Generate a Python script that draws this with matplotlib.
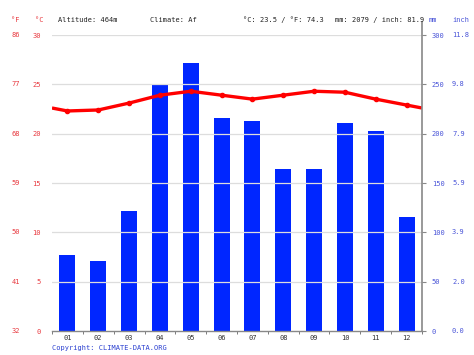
import numpy as np
import matplotlib
matplotlib.use('agg')
import matplotlib.pyplot as plt
from matplotlib.lines import Line2D

# climate data
months = ["01", "02", "03", "04", "05", "06", "07", "08", "09", "10", "11", "12"]
precip_mm = [77, 71, 122, 250, 272, 216, 213, 164, 164, 211, 203, 116]
temp_c = [22.3, 22.4, 23.1, 23.9, 24.3, 23.9, 23.5, 23.9, 24.3, 24.2, 23.5, 22.9]
header = ["Altitude: 464m", "Climate: Af", "°C: 23.5 / °F: 74.3", "mm: 2079 / inch: 81.9"]
header_x = [58, 150, 243, 335]

RED = "#ff0000"
BLUE = "#0026ff"
LBL_RED = "#e8393f"
LBL_BLUE = "#4a55d8"
FONT = "DejaVu Sans Mono"
FS = 5

W, H = 474, 355
fig = plt.figure(figsize=(W / 100, H / 100), dpi=100)
L, R, B, T = 52 / W, 422 / W, (H - 331) / H, (H - 35) / H
ax = fig.add_axes([L, B, R - L, T - B])
ax2 = ax.twinx()

x = np.arange(1, 13)

# precipitation bars on the mm axis
ax2.bar(x, precip_mm, width=0.52, color=BLUE, zorder=2)
ax2.set_ylim(0, 300)

# temperature line, wrapped to the edges with the Dec/Jan mean
edge = (temp_c[0] + temp_c[-1]) / 2
tx = np.concatenate([[0.5], x, [12.5]])
ty = np.concatenate([[edge], temp_c, [edge]])
ax.set_zorder(ax2.get_zorder() + 1)
ax.patch.set_visible(False)
ax.plot(tx, ty, color=RED, lw=2.4, solid_capstyle="butt", zorder=4)
ax.plot(x, temp_c, "o", color=RED, ms=3, zorder=5)
ax.set_ylim(0, 30)
ax.set_xlim(0.5, 12.5)
ax2.set_xlim(0.5, 12.5)

# grid
for v in range(5, 31, 5):
    ax.axhline(v, color="#dddddd", lw=0.9, zorder=0)
ax.set_axisbelow(True)

for a in (ax, ax2):
    for s in ("top", "left", "right", "bottom"):
        a.spines[s].set_visible(False)
ax.spines["bottom"].set_visible(True)
ax.spines["bottom"].set_color("#888888")
ax.spines["bottom"].set_linewidth(1.0)

# right axis line, running a little above the plot like the original
fig.add_artist(Line2D([R, R], [B, 1 - 22 / H], transform=fig.transFigure,
                      color="#888888", lw=1.2))

# x ticks
ax.set_xticks(x)
ax.set_xticklabels(months, fontsize=FS, family=FONT, color="#333333")
ax.tick_params(axis="x", length=0, pad=3)
ax.set_xticks(np.arange(0.5, 13, 1), minor=True)
ax.tick_params(axis="x", which="minor", length=2, color="#666666", direction="out")

# left temperature labels
c_ticks = list(range(0, 31, 5))
ax.set_yticks(c_ticks)
ax.set_yticklabels([str(c) for c in c_ticks], fontsize=FS, family=FONT, color=LBL_RED)
ax.tick_params(axis="y", length=0, pad=8)
for c in c_ticks:
    f = round(c * 9 / 5 + 32)
    ax.text(-32 / (R - L) / W, c, str(f), transform=ax.get_yaxis_transform(),
            ha="right", va="center", fontsize=FS, family=FONT, color=LBL_RED)

# right precipitation labels
mm_ticks = list(range(0, 301, 50))
ax2.set_yticks(mm_ticks)
ax2.set_yticklabels([str(m) for m in mm_ticks], fontsize=FS, family=FONT, color=LBL_BLUE)
ax2.tick_params(axis="y", length=3, color="#888888", pad=4)
for m in mm_ticks:
    ax2.text(1 + 30 / (R - L) / W, m, "%.1f" % (m / 25.4), transform=ax2.get_yaxis_transform(),
             ha="left", va="center", fontsize=FS, family=FONT, color=LBL_BLUE)

# unit headers
fig.text(20 / W, 1 - 20 / H, "°F", ha="right", va="center", fontsize=FS, family=FONT, color=LBL_RED)
fig.text(44 / W, 1 - 20 / H, "°C", ha="right", va="center", fontsize=FS, family=FONT, color=LBL_RED)
fig.text(429 / W, 1 - 20 / H, "mm", ha="left", va="center", fontsize=FS, family=FONT, color=LBL_BLUE)
fig.text(452 / W, 1 - 20 / H, "inch", ha="left", va="center", fontsize=FS, family=FONT, color=LBL_BLUE)
for s, hx in zip(header, header_x):
    fig.text(hx / W, 1 - 20 / H, s, ha="left", va="center", fontsize=FS, family=FONT, color="#222222")

fig.text(52 / W, 1 - 348 / H, "Copyright: CLIMATE-DATA.ORG", ha="left", va="center",
         fontsize=FS, family=FONT, color="#2a3fd0")

fig.savefig("out.png", dpi=100)
